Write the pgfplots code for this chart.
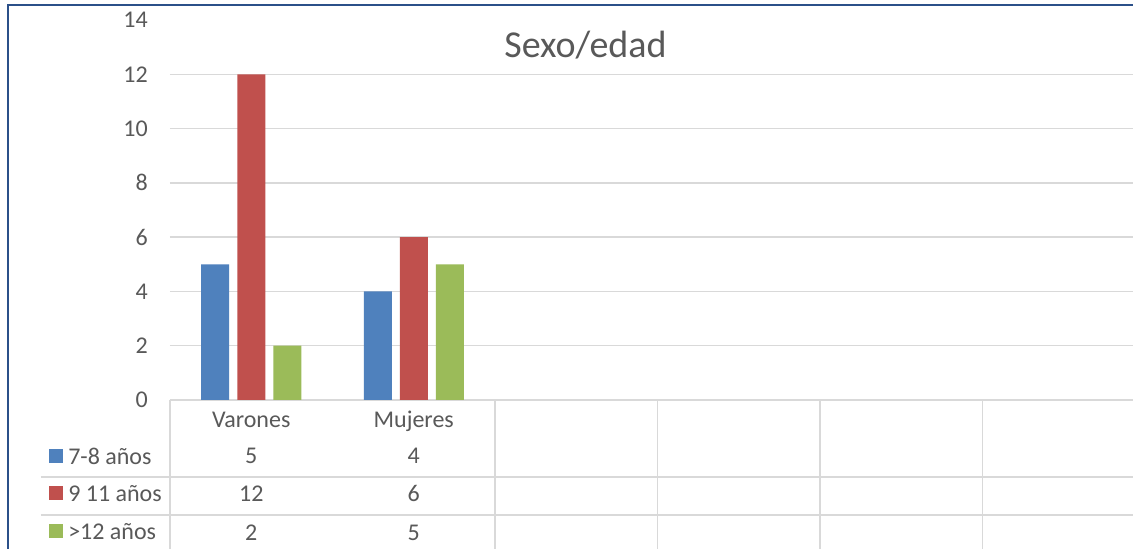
\documentclass[border=0pt]{standalone}
\usepackage{pgfplots}
\pgfplotsset{compat=1.18}
\usepackage{pgfplotstable}
\usepackage{fontspec}
\setmainfont{Carlito}
\definecolor{cblue}{HTML}{4F81BD}
\definecolor{cred}{HTML}{C0504D}
\definecolor{cgreen}{HTML}{9BBB59}
\definecolor{tgrey}{HTML}{595959}
\definecolor{ggrey}{HTML}{D9D9D9}
\definecolor{border}{HTML}{2B5089}
\pgfplotstableread{
x a b c
0 5 12 2
1 4 6 5
}\data
\begin{document}
\begin{tikzpicture}
\path[use as bounding box, clip] (0,0) rectangle (849.75pt,411.75pt);
\fill[white] (0,0) rectangle (849.75pt,411.75pt);
\begin{axis}[
  at={(127.5pt,111.75pt)}, anchor=south west,
  scale only axis, width=731.25pt, height=285pt,
  xmin=-0.5, xmax=5.5, ymin=0, ymax=14,
  clip=false,
  axis line style={draw=none},
  major tick length=0pt,
  ytick={0,2,...,12}, extra y ticks={14}, extra y tick style={grid=none},
  ymajorgrids, grid style={ggrey, line width=1.1pt},
  xtick={0,1}, xticklabels={Varones,Mujeres},
  xticklabel style={anchor=base, yshift=-21pt, inner sep=0pt},
  yticklabel style={anchor=east, xshift=-16.5pt, inner sep=0pt},
  ticklabel style={font=\fontsize{18pt}{20pt}\selectfont, text=tgrey},
  /pgf/number format/assume math mode=true,
  legend image code/.code={\fill[#1] (0pt,-6pt) rectangle (10.5pt,4.5pt);},
  legend cell align=left,
  legend style={at={(axis cs:-1.2446,-1.311)}, anchor=north west, draw=none, fill=none,
    inner sep=0pt, row sep=0pt,
    font=\fontsize{18pt}{20pt}\selectfont, text=tgrey,
    nodes={inner sep=0pt, text height=21.3pt, text depth=7pt},
    /tikz/every odd column/.append style={column sep=3.75pt}},
  every node near coord/.append style={anchor=base, font=\fontsize{18pt}{20pt}\selectfont, text=tgrey, inner sep=0pt},
]
\addplot[ybar, bar width=21pt, bar shift=-27pt, fill=cblue, draw=none] table[x=x,y=a]{\data};
\addplot[ybar, bar width=21pt, bar shift=0pt, fill=cred, draw=none] table[x=x,y=b]{\data};
\addplot[ybar, bar width=21pt, bar shift=27pt, fill=cgreen, draw=none] table[x=x,y=c]{\data};
\legend{7-8 años, 9 11 años, >12 años}
\addplot[draw=none, mark=none, forget plot, nodes near coords, point meta=explicit] table[x=x, y expr=-2.358, meta=a]{\data};
\addplot[draw=none, mark=none, forget plot, nodes near coords, point meta=explicit] table[x=x, y expr=-3.747, meta=b]{\data};
\addplot[draw=none, mark=none, forget plot, nodes near coords, point meta=explicit] table[x=x, y expr=-5.16, meta=c]{\data};
% data table grid
\draw[ggrey, line width=1.1pt] (axis cs:-1.294,-2.837) -- (axis cs:5.6,-2.837);
\draw[ggrey, line width=1.1pt] (axis cs:-1.294,-4.237) -- (axis cs:5.6,-4.237);
\pgfplotsinvokeforeach{-0.5,1.5,2.5,3.5,4.5,5.5}{
  \draw[ggrey, line width=1.1pt] (axis cs:#1,0) -- (axis cs:#1,-5.7);
}
\end{axis}
\node[anchor=base, font=\fontsize{28.5pt}{30pt}\selectfont, text=tgrey, inner sep=0pt] at (439.1pt,368.25pt) {Sexo/edad};
\draw[border, line width=1.5pt] (6pt,0) -- (6pt,408pt) -- (860pt,408pt);
\end{tikzpicture}
\end{document}
